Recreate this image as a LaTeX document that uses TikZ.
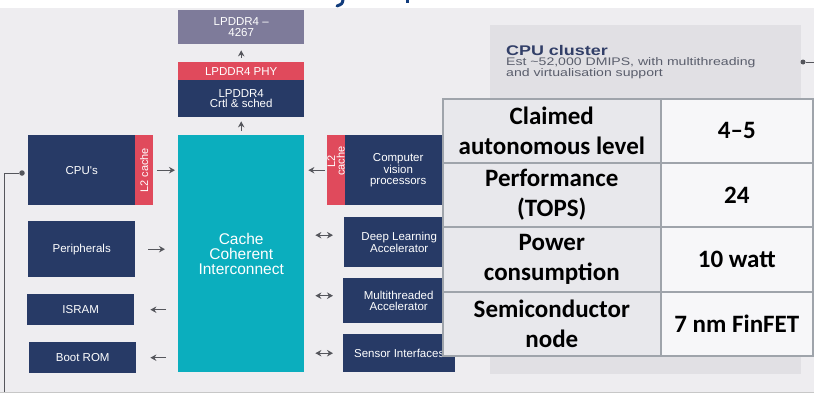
\documentclass[tikz,border=0pt]{standalone}
\usepackage{fontspec}
\usetikzlibrary{arrows.meta}
\newfontfamily\boxfont{Liberation Sans}
\newfontfamily\widefont[FakeStretch=1.28]{Liberation Sans}
\newfontfamily\tabfont{Carlito}
\definecolor{bg}{HTML}{EEEDF0}
\definecolor{navy}{HTML}{273A66}
\definecolor{l2red}{HTML}{E04A5C}
\definecolor{ccicyan}{HTML}{0BAEBE}
\definecolor{memgray}{HTML}{7E7B9A}
\definecolor{panel}{HTML}{E1E0E4}
\definecolor{arrowgray}{HTML}{55565C}
\definecolor{titleblue}{HTML}{123C7C}
\definecolor{clustertitle}{HTML}{323F68}
\definecolor{clustertext}{HTML}{5A5E6C}
\definecolor{tabline}{HTML}{9FA4AB}
\definecolor{tabkey}{HTML}{E8E8EC}
\definecolor{tabval}{HTML}{F7F7F9}
\tikzset{
  blk/.style={fill=navy, text=white, align=center, inner sep=0pt, anchor=north west,
    font=\boxfont\fontsize{11.5}{10.5}\selectfont},
  strip/.style={fill=l2red, inner sep=0pt, anchor=north west, minimum width=18pt, minimum height=70pt},
  striptext/.style={rotate=90, text=white, align=center, inner sep=0pt,
    font=\boxfont\fontsize{11}{9.5}\selectfont},
  arr/.style={draw=arrowgray, line width=1.3pt, -{Stealth[length=6pt,width=6.5pt]}},
  dbl/.style={draw=arrowgray, line width=1.3pt, {Stealth[length=6pt,width=6.5pt]}-{Stealth[length=6pt,width=6.5pt]}},
  cell/.style={draw=tabline, line width=1.6pt, inner sep=0pt, anchor=north west, align=center,
    text=black, font=\tabfont\bfseries\fontsize{25}{30.5}\selectfont},
  dot/.style={circle, fill=arrowgray, inner sep=0pt, minimum size=5.5pt},
  wire/.style={draw=arrowgray, line width=1pt}
}
\begin{document}
\begin{tikzpicture}[x=1pt,y=-1pt]
\useasboundingbox (0,0) rectangle (814,394);
\fill[white] (0,0) rectangle (814,394);
\fill[bg] (0,8) rectangle (814,392);
\draw[black!22, line width=1pt] (0,392.5) -- (814,392.5);

% ends of the heading above the figure
\draw[titleblue, line width=3pt, line cap=round] (343,0) .. controls (342,4) .. (337,6);
\fill[titleblue] (406,0) rectangle (409,2.5);

% memory path
\node[blk, fill=memgray, minimum width=126pt, minimum height=34pt] (mem) at (178,10) {LPDDR4 –\\4267};
\node[blk, fill=l2red, minimum width=126pt, minimum height=18pt] (phy) at (178,62) {LPDDR4 PHY};
\node[blk, minimum width=126pt, minimum height=37pt] (ctl) at (178,80) {LPDDR4\\Crtl \& sched};

% interconnect
\node[blk, fill=ccicyan, minimum width=126pt, minimum height=237pt,
  font=\boxfont\fontsize{15.5}{15}\selectfont] (cci) at (178,135) {Cache\\Coherent\\Interconnect};

% left column
\node[blk, minimum width=107pt, minimum height=70pt] (cpu) at (28,135) {CPU's};
\node[strip] (cpul2) at (135,135) {};
\node[striptext] at (cpul2.center) {L2 cache};
\node[blk, minimum width=107pt, minimum height=56pt] (per) at (28,221) {Peripherals};
\node[blk, minimum width=107pt, minimum height=31pt] (isram) at (27,294) {ISRAM};
\node[blk, minimum width=107pt, minimum height=31pt] (boot) at (29,342) {Boot ROM};

% right column
\node[strip] (cvl2) at (327,135) {};
\node[striptext] at ([yshift=9pt]cvl2.center) {L2\\cache};
\node[blk, minimum width=106pt, minimum height=70pt] (cv) at (345,135) {Computer\\vision\\processors};
\node[blk, minimum width=110pt, minimum height=50pt] (dla) at (344,217) {Deep Learning\\Accelerator};
\node[blk, minimum width=111pt, minimum height=45pt] (mta) at (343,278) {Multithreaded\\Accelerator};
\node[blk, minimum width=112pt, minimum height=38pt] (sen) at (343,334) {Sensor Interfaces};

% connections to the interconnect
\draw[arr, shorten <=4pt, shorten >=4pt] (cci.north) -- (ctl.south);
\draw[arr, shorten <=4pt, shorten >=6pt] (phy.north) -- (mem.south);
\draw[arr, shorten <=4pt, shorten >=3pt] (cpul2.east) -- (cpul2.east -| cci.west);
\draw[arr, shorten <=13pt, shorten >=13pt] (per.east) -- (per.east -| cci.west);
\draw[arr, shorten <=12pt, shorten >=16pt] (isram.east -| cci.west) -- (isram.east);
\draw[arr, shorten <=12pt, shorten >=14pt] (boot.east -| cci.west) -- (boot.east);
\draw[arr, shorten <=2pt, shorten >=4pt] (cvl2.west) -- (cvl2.west -| cci.east);
\draw[dbl, shorten <=11pt, shorten >=11pt] ([yshift=7pt]dla.west -| cci.east) -- ([yshift=7pt]dla.west);
\draw[dbl, shorten <=11pt, shorten >=10pt] ([yshift=5pt]mta.west -| cci.east) -- ([yshift=5pt]mta.west);
\draw[dbl, shorten <=11pt, shorten >=10pt] (sen.west -| cci.east) -- (sen.west);

% side wire from the CPUs
\node[dot] (cpudot) at (22,173) {};
\coordinate (wirecorner) at (4,173);
\coordinate (wireend) at (4,392);
\draw[wire] (cpudot) -- (wirecorner) -- (wireend);

% CPU cluster panel
\fill[panel] (490,25) rectangle (801,374);
\node[anchor=base west, inner sep=0pt, text=clustertitle, font=\widefont\bfseries\fontsize{14}{14}\selectfont]
  (cltitle) at (506,55.5) {CPU cluster};
\node[anchor=north west, inner sep=0pt, align=left, text=clustertext, font=\widefont\fontsize{11}{10.5}\selectfont]
  (cltext) at (506,57.5) {Est \textasciitilde52,000 DMIPS, with multithreading\\and virtualisation support};
\node[dot, minimum size=5pt] (cldot) at (803,62) {};
\coordinate (clend) at (814,62);
\draw[wire] (cldot) -- (clend);

% key figures table
\node[cell, fill=tabkey, minimum width=218pt, minimum height=64pt] (k1) at (442,98) {Claimed\\autonomous level};
\node[cell, fill=tabval, minimum width=152pt, minimum height=64pt] (v1) at (660,98) {4–5};
\node[cell, fill=tabkey, minimum width=218pt, minimum height=64pt] (k2) at (442,162) {Performance\\(TOPS)};
\node[cell, fill=tabval, minimum width=152pt, minimum height=64pt] (v2) at (660,162) {24};
\node[cell, fill=tabkey, minimum width=218pt, minimum height=65pt] (k3) at (442,226) {Power\\consumption};
\node[cell, fill=tabval, minimum width=152pt, minimum height=65pt] (v3) at (660,226) {10 watt};
\node[cell, fill=tabkey, minimum width=218pt, minimum height=64pt] (k4) at (442,291) {Semiconductor\\node};
\node[cell, fill=tabval, minimum width=152pt, minimum height=64pt] (v4) at (660,291) {7 nm FinFET};
\end{tikzpicture}
\end{document}
